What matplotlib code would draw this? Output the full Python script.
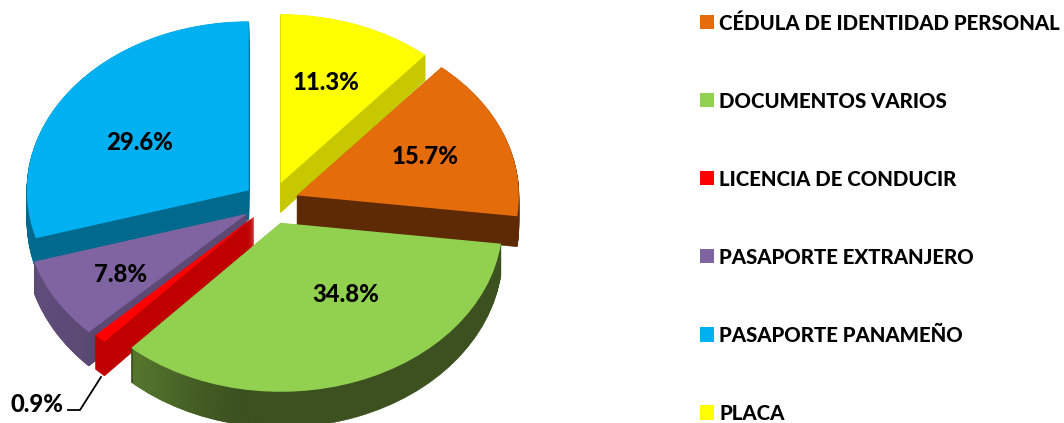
"""
Exploded 3D style pie of document types
"""
import matplotlib
matplotlib.use("Agg")
import matplotlib.pyplot as plt
import numpy as np
from matplotlib.colors import LinearSegmentedColormap
from matplotlib.patches import Patch
from matplotlib.transforms import Affine2D

categories = ["CÉDULA DE IDENTIDAD PERSONAL", "DOCUMENTOS VARIOS", "LICENCIA DE CONDUCIR",
              "PASAPORTE EXTRANJERO", "PASAPORTE PANAMEÑO", "PLACA"]
values = [15.7, 34.8, 0.9, 7.8, 29.6, 11.3]

top_colors = ["#E46C0A", "#92D050", "#FF0000", "#8064A2", "#00B0F0", "#FFFF00"]
side_colors = ["#5E2A05", "#3C5020", "#C00000", "#5C4A74", "#006A8E", "#C8C800"]

# pie geometry in pixels of the 1064x423 picture
CX, CY, RX, RY = 271, 203, 222, 169
DEPTH = 30
NLAYERS = 40
W, H = 1064, 423


def px(x, y):
    return (x - CX) / RX, (CY - y) / RY


plt.rcParams["font.family"] = ["Lato", "DejaVu Sans"]
plt.rcParams["font.weight"] = "black"

fig = plt.figure(figsize=(W / 100, H / 100), dpi=100)
ax = fig.add_axes([0, 0, 1, 1])

explode = [0.125, 0.125, 0.112, 0.125, 0.125, 0.125]
start = 90 - values[-1] * 3.6 * 100 / sum(values)

green_cmap = LinearSegmentedColormap.from_list("g", ["#6E9A3C", "#4F6E2B", "#3C5020", "#3C5020"])
purple_cmap = LinearSegmentedColormap.from_list("p", ["#6C5788", "#564570"])
gradient = np.linspace(0, 1, 256).reshape(1, -1)

for k in range(NLAYERS, -1, -1):
    t = k / NLAYERS
    colors = side_colors if k > 0 else top_colors
    wedges, _ = ax.pie(values, colors=colors, explode=explode, startangle=start, counterclock=False,
                       labeldistance=None, wedgeprops=dict(linewidth=0.4 if k > 0 else 0, edgecolor=None))
    tr = Affine2D().scale(1, 1 + 0.03 * t).translate(0, -DEPTH / RY * t) + ax.transData
    for w, c in zip(wedges, colors):
        w.set_transform(tr)
        if k > 0:
            w.set_edgecolor(c)
    if k > 0:
        # shaded rim of green and purple slices
        x0, x1 = px(133, 0)[0], px(300, 0)[0]
        im = ax.imshow(gradient, extent=(x0, x1, -1.6, 0), cmap=green_cmap, aspect="auto", zorder=1)
        im.set_clip_path(wedges[1])
        x0, x1 = px(37, 0)[0], px(100, 0)[0]
        im = ax.imshow(gradient, extent=(x0, x1, -1, 0), cmap=purple_cmap, aspect="auto", zorder=1)
        im.set_clip_path(wedges[3])

ax.set_aspect("auto")
ax.set_xlim(px(0, 0)[0], px(W, 0)[0])
ax.set_ylim(px(0, H)[1], px(0, 0)[1])
ax.axis("off")

# percentage labels
label_pos = [(425, 156), (346, 294), (37, 404), (121, 274), (140, 142), (326, 82)]
for v, p in zip(values, label_pos):
    ax.text(*px(*p), "%.1f%%" % v, ha="center", va="center", fontsize=17.2, color="black", zorder=5)

# leader of the small slice
lead = np.array([px(101, 377), px(80, 410), px(68, 410)])
ax.plot(lead[:, 0], lead[:, 1], color="black", lw=1.3, zorder=5)

handles = [Patch(facecolor=c, edgecolor="none") for c in top_colors]
leg = ax.legend(handles, categories, loc="upper left", bbox_to_anchor=(700 / W, 1 - 13 / H),
                bbox_transform=fig.transFigure, frameon=False, fontsize=14.7, handlelength=0.69,
                handleheight=0.69, handletextpad=0.25, labelspacing=2.89, borderpad=0, borderaxespad=0)

plt.savefig("out.png", dpi=100)
plt.close()
